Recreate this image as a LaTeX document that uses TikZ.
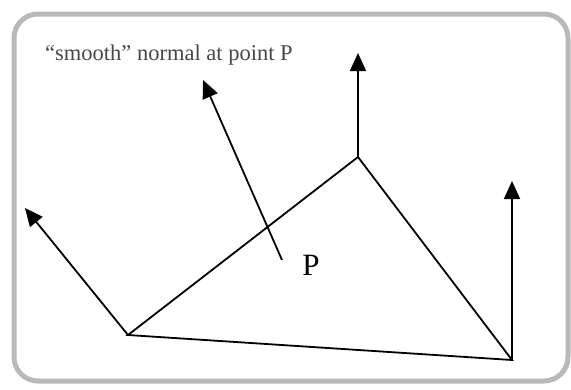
\documentclass[tikz,border=0pt]{standalone}
\usepackage{fontspec}
\setmainfont{Liberation Serif}
\usepackage{xcolor}
\usetikzlibrary{arrows.meta,positioning}

\begin{document}
\begin{tikzpicture}[
  x=1pt, y=-1pt,
  facet/.style={line width=1.8pt, line join=miter},
  normal/.style={-{Triangle[length=18pt,width=16pt]}, line width=1.8pt},
  frame/.style={draw=gray!55, line width=5pt, rounded corners=24pt},
  caption/.style={anchor=base west, inner sep=0pt, text=black!72, font=\fontsize{22.5}{22.5}\selectfont}
]
\useasboundingbox (0,0) rectangle (571,389);
\draw[frame] (14,14) rectangle (568,381);

% polygon vertices and the point P
\coordinate (a) at (128,335);
\coordinate (b) at (358,157);
\coordinate (c) at (512,360);
\coordinate (p) at (282,260);

% ends of the normals
\coordinate (na) at (25,208);
\coordinate (nb) at (358,53);
\coordinate (nc) at (512,181);
\coordinate (np) at (203,80);

\draw[facet] (a) -- (b) -- (c) -- cycle;

\draw[normal] (a) -- (na);
\draw[normal] (b) -- (nb);
\draw[normal] (c) -- (nc);
\draw[normal] (p) -- (np);

\node[font=\fontsize{31}{31}\selectfont, inner sep=0pt] (plabel) at (311,265) {P};
\node[caption] (title) at (45,60) {“smooth” normal at point P};
\end{tikzpicture}
\end{document}
